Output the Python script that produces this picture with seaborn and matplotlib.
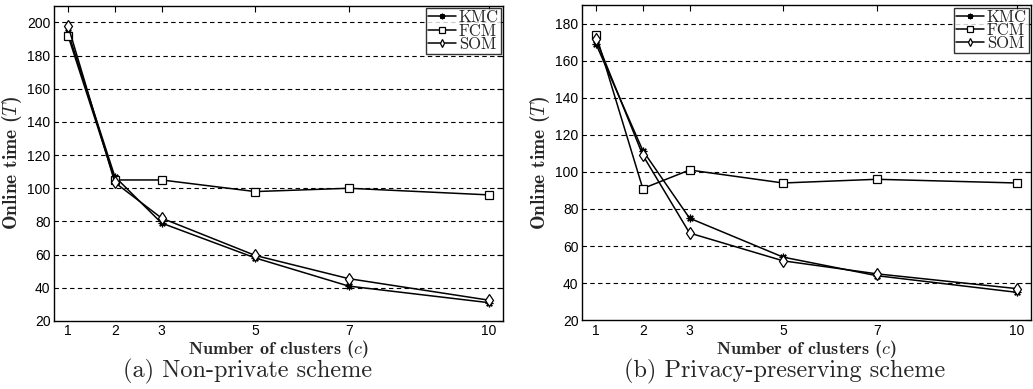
import matplotlib
matplotlib.use("Agg")
import matplotlib.pyplot as plt
import seaborn as sns
import pandas as pd

# Number of clusters evaluated
clusters = [1, 2, 3, 5, 7, 10]
methods = ["KMC", "FCM", "SOM"]

# Online time, non-private scheme
nonpriv_kmc = [194, 107, 79, 58, 41, 31]
nonpriv_fcm = [192, 105, 105, 98, 100, 96]
nonpriv_som = [198, 103.5, 82, 59.5, 45.5, 32.5]

# Online time, privacy-preserving scheme
priv_kmc = [169, 111.5, 75, 54, 44, 35]
priv_fcm = [174, 91, 101, 94, 96, 94]
priv_som = [171.5, 109, 67, 52, 45, 37]

yticks_a = [20, 40, 60, 80, 100, 120, 140, 160, 180, 200]
yticks_b = [20, 40, 60, 80, 100, 120, 140, 160, 180]
xtick_labels = ["1", "2", "3", "5", "7", "10"]

captions = ["(a) Non-private scheme", "(b) Privacy-preserving scheme"]

sns.set_style("white")
plt.rcParams["mathtext.fontset"] = "cm"
plt.rcParams["axes.unicode_minus"] = False

fig = plt.figure(figsize=(10.33, 3.89), dpi=100)
ax_a = fig.add_axes([0.0523, 0.175, 0.4347, 0.810])
ax_b = fig.add_axes([0.5634, 0.177, 0.4347, 0.810])

# asterisk drawn as line art; square and thin diamond hollow
marker_style = {
    "KMC": dict(marker=(8, 2, 0), markersize=5.5, markeredgewidth=0.9),
    "FCM": dict(marker="s", markersize=5.5, markerfacecolor="white", markeredgewidth=0.9),
    "SOM": dict(marker="d", markersize=6.5, markerfacecolor="white", markeredgewidth=0.9),
}

panels = [
    (ax_a, [nonpriv_kmc, nonpriv_fcm, nonpriv_som], (20, 210), yticks_a),
    (ax_b, [priv_kmc, priv_fcm, priv_som], (20, 190), yticks_b),
]

for ax, series, ylim, yticks in panels:
    for name, vals in zip(methods, series):
        df = pd.DataFrame({"clusters": clusters, "time": vals})
        sns.lineplot(
            data=df, x="clusters", y="time", ax=ax, color="black",
            linewidth=1.1, markeredgecolor="black", label=name,
            **marker_style[name],
        )
    ax.set_xlim(0.7, 10.3)
    ax.set_ylim(*ylim)
    ax.set_xticks(clusters)
    ax.set_xticklabels(xtick_labels)
    ax.set_yticks(yticks)
    for y in yticks[1:]:
        ax.axhline(y, color="black", lw=0.8, ls=(0, (4, 3)), zorder=0)
    for side in ["top", "right", "bottom", "left"]:
        ax.spines[side].set_visible(True)
        ax.spines[side].set_color("black")
        ax.spines[side].set_linewidth(1.0)
    ax.tick_params(direction="in", length=4.5, width=0.8, top=True, right=True,
                   labelsize=10, colors="black", pad=2.5)
    for lab in ax.get_xticklabels() + ax.get_yticklabels():
        lab.set_family("Liberation Sans")
    ax.set_xlabel("Number of clusters ($c$)", family="cmb10", fontsize=13, labelpad=0)
    ax.set_ylabel("Online time ($T$)", family="cmb10", fontsize=14, labelpad=2)

    handles, labels = ax.get_legend_handles_labels()
    leg = ax.legend(
        handles, labels, loc="upper right", frameon=True, fancybox=False,
        borderaxespad=0.15, borderpad=0.1, labelspacing=-0.12,
        handlelength=1.7, handletextpad=0.15, prop={"family": "cmr10", "size": 12},
    )
    leg.get_frame().set_edgecolor("black")
    leg.get_frame().set_linewidth(1.0)
    for h in leg.legend_handles:
        h.set_markersize(4)

fig.text(248 / 1033, 1 - 371 / 389, captions[0], family="cmr10", fontsize=17.5,
         ha="center", va="center")
fig.text(785 / 1033, 1 - 371 / 389, captions[1], family="cmr10", fontsize=17.5,
         ha="center", va="center")

fig.savefig("out.png", dpi=100)
